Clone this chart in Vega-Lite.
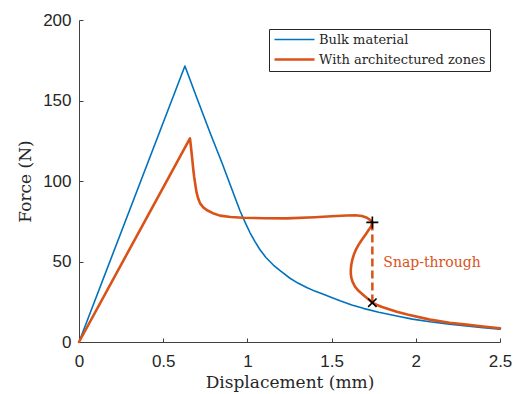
{
  "$schema": "https://vega.github.io/schema/vega-lite/v6.json",
  "width": 421,
  "height": 322,
  "autosize": {"type": "none"},
  "padding": {"left": 79, "top": 20, "right": 20, "bottom": 52},
  "background": "white",
  "config": {
    "view": {"stroke": null},
    "axis": {
      "domainColor": "#404040",
      "domainWidth": 1,
      "tickColor": "#404040",
      "tickSize": -4,
      "grid": false,
      "labelFlush": false,
      "labelFont": "Liberation Sans",
      "labelFontSize": 17,
      "labelColor": "#262626",
      "titleFont": "DejaVu Serif",
      "titleFontSize": 17,
      "titleFontWeight": "normal",
      "titleColor": "#262626"
    },
    "legend": {
      "orient": "none",
      "legendX": 190,
      "legendY": 9,
      "strokeColor": "#262626",
      "fillColor": "white",
      "padding": 4,
      "labelFont": "DejaVu Serif",
      "labelFontSize": 13,
      "labelLimit": 300,
      "labelColor": "#262626",
      "symbolType": "M-1,0H7",
      "symbolSize": 100,
      "symbolStrokeWidth": 2,
      "labelOffset": 33,
      "rowPadding": 6,
      "titlePadding": 0
    }
  },
  "layer": [
    {
      "data": {
        "values": [
          {"series": "Bulk material", "i": 0, "d": 0, "f": 0},
          {"series": "Bulk material", "i": 1, "d": 0.629, "f": 171.4},
          {"series": "Bulk material", "i": 2, "d": 0.70, "f": 151.5},
          {"series": "Bulk material", "i": 3, "d": 0.78, "f": 129.5},
          {"series": "Bulk material", "i": 4, "d": 0.85, "f": 111},
          {"series": "Bulk material", "i": 5, "d": 0.90, "f": 97},
          {"series": "Bulk material", "i": 6, "d": 0.956, "f": 81.5},
          {"series": "Bulk material", "i": 7, "d": 0.99, "f": 73.5},
          {"series": "Bulk material", "i": 8, "d": 1.015, "f": 68},
          {"series": "Bulk material", "i": 9, "d": 1.045, "f": 62.3},
          {"series": "Bulk material", "i": 10, "d": 1.075, "f": 57.3},
          {"series": "Bulk material", "i": 11, "d": 1.11, "f": 52.5},
          {"series": "Bulk material", "i": 12, "d": 1.154, "f": 47.8},
          {"series": "Bulk material", "i": 13, "d": 1.2, "f": 43.8},
          {"series": "Bulk material", "i": 14, "d": 1.253, "f": 39.6},
          {"series": "Bulk material", "i": 15, "d": 1.3, "f": 36.6},
          {"series": "Bulk material", "i": 16, "d": 1.352, "f": 33.9},
          {"series": "Bulk material", "i": 17, "d": 1.4, "f": 31.6},
          {"series": "Bulk material", "i": 18, "d": 1.451, "f": 29.6},
          {"series": "Bulk material", "i": 19, "d": 1.5, "f": 27.6},
          {"series": "Bulk material", "i": 20, "d": 1.55, "f": 25.6},
          {"series": "Bulk material", "i": 21, "d": 1.62, "f": 23},
          {"series": "Bulk material", "i": 22, "d": 1.688, "f": 20.9},
          {"series": "Bulk material", "i": 23, "d": 1.78, "f": 18.5},
          {"series": "Bulk material", "i": 24, "d": 1.887, "f": 16.1},
          {"series": "Bulk material", "i": 25, "d": 1.98, "f": 14.2},
          {"series": "Bulk material", "i": 26, "d": 2.084, "f": 12.6},
          {"series": "Bulk material", "i": 27, "d": 2.2, "f": 11.1},
          {"series": "Bulk material", "i": 28, "d": 2.3, "f": 10},
          {"series": "Bulk material", "i": 29, "d": 2.4, "f": 8.9},
          {"series": "Bulk material", "i": 30, "d": 2.5, "f": 7.9},
          {"series": "With architectured zones", "i": 0, "d": 0, "f": 0},
          {"series": "With architectured zones", "i": 1, "d": 0.659, "f": 126.5},
          {"series": "With architectured zones", "i": 2, "d": 0.664, "f": 122},
          {"series": "With architectured zones", "i": 3, "d": 0.669, "f": 117},
          {"series": "With architectured zones", "i": 4, "d": 0.674, "f": 112},
          {"series": "With architectured zones", "i": 5, "d": 0.679, "f": 106.8},
          {"series": "With architectured zones", "i": 6, "d": 0.684, "f": 102.5},
          {"series": "With architectured zones", "i": 7, "d": 0.689, "f": 99},
          {"series": "With architectured zones", "i": 8, "d": 0.694, "f": 95.5},
          {"series": "With architectured zones", "i": 9, "d": 0.699, "f": 92.4},
          {"series": "With architectured zones", "i": 10, "d": 0.709, "f": 88.8},
          {"series": "With architectured zones", "i": 11, "d": 0.719, "f": 86.1},
          {"series": "With architectured zones", "i": 12, "d": 0.738, "f": 83.6},
          {"series": "With architectured zones", "i": 13, "d": 0.758, "f": 82},
          {"series": "With architectured zones", "i": 14, "d": 0.795, "f": 80},
          {"series": "With architectured zones", "i": 15, "d": 0.837, "f": 78.5},
          {"series": "With architectured zones", "i": 16, "d": 0.9, "f": 77.6},
          {"series": "With architectured zones", "i": 17, "d": 0.976, "f": 77.2},
          {"series": "With architectured zones", "i": 18, "d": 1.1, "f": 76.9},
          {"series": "With architectured zones", "i": 19, "d": 1.233, "f": 76.8},
          {"series": "With architectured zones", "i": 20, "d": 1.4, "f": 77.5},
          {"series": "With architectured zones", "i": 21, "d": 1.5, "f": 78.1},
          {"series": "With architectured zones", "i": 22, "d": 1.59, "f": 78.6},
          {"series": "With architectured zones", "i": 23, "d": 1.64, "f": 78.7},
          {"series": "With architectured zones", "i": 24, "d": 1.68, "f": 78.3},
          {"series": "With architectured zones", "i": 25, "d": 1.71, "f": 77.2},
          {"series": "With architectured zones", "i": 26, "d": 1.73, "f": 75.7},
          {"series": "With architectured zones", "i": 27, "d": 1.742, "f": 74.3},
          {"series": "With architectured zones", "i": 28, "d": 1.735, "f": 72},
          {"series": "With architectured zones", "i": 29, "d": 1.72, "f": 69.5},
          {"series": "With architectured zones", "i": 30, "d": 1.70, "f": 66.5},
          {"series": "With architectured zones", "i": 31, "d": 1.679, "f": 63.4},
          {"series": "With architectured zones", "i": 32, "d": 1.66, "f": 60.3},
          {"series": "With architectured zones", "i": 33, "d": 1.645, "f": 57.5},
          {"series": "With architectured zones", "i": 34, "d": 1.633, "f": 54.5},
          {"series": "With architectured zones", "i": 35, "d": 1.624, "f": 51.5},
          {"series": "With architectured zones", "i": 36, "d": 1.617, "f": 48},
          {"series": "With architectured zones", "i": 37, "d": 1.614, "f": 45},
          {"series": "With architectured zones", "i": 38, "d": 1.614, "f": 42.5},
          {"series": "With architectured zones", "i": 39, "d": 1.617, "f": 40},
          {"series": "With architectured zones", "i": 40, "d": 1.624, "f": 37.5},
          {"series": "With architectured zones", "i": 41, "d": 1.639, "f": 34.4},
          {"series": "With architectured zones", "i": 42, "d": 1.66, "f": 31.8},
          {"series": "With architectured zones", "i": 43, "d": 1.688, "f": 29.2},
          {"series": "With architectured zones", "i": 44, "d": 1.715, "f": 26.8},
          {"series": "With architectured zones", "i": 45, "d": 1.742, "f": 24.4},
          {"series": "With architectured zones", "i": 46, "d": 1.77, "f": 23},
          {"series": "With architectured zones", "i": 47, "d": 1.8, "f": 21.7},
          {"series": "With architectured zones", "i": 48, "d": 1.85, "f": 20},
          {"series": "With architectured zones", "i": 49, "d": 1.887, "f": 18.8},
          {"series": "With architectured zones", "i": 50, "d": 1.95, "f": 17.1},
          {"series": "With architectured zones", "i": 51, "d": 2.084, "f": 13.9},
          {"series": "With architectured zones", "i": 52, "d": 2.2, "f": 12},
          {"series": "With architectured zones", "i": 53, "d": 2.3, "f": 10.8},
          {"series": "With architectured zones", "i": 54, "d": 2.4, "f": 9.6},
          {"series": "With architectured zones", "i": 55, "d": 2.5, "f": 8.5}
        ]
      },
      "mark": {"type": "line", "strokeJoin": "round", "strokeCap": "round"},
      "encoding": {
        "x": {
          "field": "d", "type": "quantitative",
          "scale": {"domain": [0, 2.5], "nice": false, "zero": false},
          "axis": {"values": [0, 0.5, 1, 1.5, 2, 2.5], "format": ".1~f", "labelPadding": 15, "titlePadding": 5, "title": "Displacement (mm)"}
        },
        "y": {
          "field": "f", "type": "quantitative",
          "scale": {"domain": [0, 200], "nice": false},
          "axis": {"values": [0, 50, 100, 150, 200], "labelPadding": 12, "titlePadding": 8, "title": "Force (N)"}
        },
        "color": {
          "field": "series", "type": "nominal",
          "scale": {"domain": ["Bulk material", "With architectured zones"], "range": ["#0072BD", "#D95319"]},
          "legend": {"title": null}
        },
        "strokeWidth": {
          "field": "series", "type": "nominal",
          "scale": {"domain": ["Bulk material", "With architectured zones"], "range": [1.6, 2.6]},
          "legend": null
        },
        "order": {"field": "i", "type": "quantitative"}
      }
    },
    {
      "data": {"values": [{"d": 1.742, "f": 74.3, "f2": 24.4}]},
      "mark": {"type": "rule", "color": "#D95319", "strokeWidth": 2.5, "strokeDash": [8, 4]},
      "encoding": {
        "x": {"field": "d", "type": "quantitative"},
        "y": {"field": "f", "type": "quantitative"},
        "y2": {"field": "f2"}
      }
    },
    {
      "data": {"values": [
        {"d": 1.742, "f": 74.3, "m": "plus"},
        {"d": 1.742, "f": 24.4, "m": "cross"}
      ]},
      "mark": {"type": "point", "filled": false, "color": "black", "strokeWidth": 1.6, "size": 144, "opacity": 1},
      "encoding": {
        "x": {"field": "d", "type": "quantitative"},
        "y": {"field": "f", "type": "quantitative"},
        "shape": {
          "field": "m", "type": "nominal",
          "scale": {"domain": ["plus", "cross"], "range": ["M-1,0H1M0,-1V1", "M-0.7,-0.7L0.7,0.7M-0.7,0.7L0.7,-0.7"]},
          "legend": null
        }
      }
    },
    {
      "data": {"values": [{"d": 1.807, "f": 48.9, "label": "Snap-through"}]},
      "mark": {"type": "text", "align": "left", "baseline": "middle", "font": "DejaVu Serif", "fontSize": 14, "color": "#D95319"},
      "encoding": {
        "x": {"field": "d", "type": "quantitative"},
        "y": {"field": "f", "type": "quantitative"},
        "text": {"field": "label"}
      }
    }
  ]
}
